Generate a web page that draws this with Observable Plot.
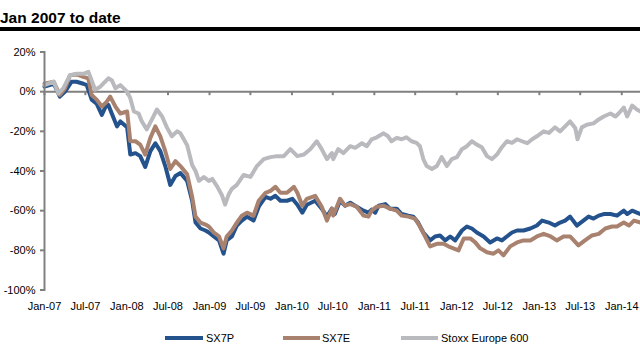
<!DOCTYPE html>
<html><head><meta charset="utf-8">
<script src="https://cdn.jsdelivr.net/npm/d3@7"></script>
<script src="https://cdn.jsdelivr.net/npm/@observablehq/plot@0.6"></script>
<style>
body{margin:0;background:#fff;font-family:"Liberation Sans",Arial,sans-serif;}
#title{width:640px;height:18px;padding-top:9px;font-weight:bold;font-size:15.5px;line-height:17px;border-bottom:4px solid #000;color:#000;white-space:nowrap;}
#chart svg{display:block;}
#legend{position:relative;width:640px;height:25px;font-size:11px;color:#000;}
#legend .sw{position:absolute;top:9.3px;height:4px;}
#legend .lb{position:absolute;top:5px;line-height:13px;white-space:nowrap;}
</style></head>
<body>
<div id="title">Jan 2007 to date</div>
<div id="chart"></div>
<div id="legend"></div>
<script>
// ---- data (percent change since Jan 2007) ----
const seriesNames = ["SX7P", "SX7E", "Stoxx Europe 600"];
const seriesColors = ["#24528c", "#a9826f", "#b9babe"];

const sx7pDates = ["2007-01-01","2007-02-11","2007-03-10","2007-04-02","2007-05-01","2007-05-23","2007-06-22","2007-07-07","2007-07-29","2007-08-20","2007-09-12","2007-09-27","2007-10-11","2007-10-26","2007-11-18","2007-12-03","2008-01-02","2008-01-16","2008-02-08","2008-02-29","2008-03-22","2008-04-14","2008-05-06","2008-05-28","2008-06-19","2008-07-11","2008-08-03","2008-08-25","2008-09-24","2008-10-16","2008-10-31","2008-11-22","2008-12-14","2008-12-29","2009-01-20","2009-02-12","2009-03-04","2009-03-18","2009-04-10","2009-05-02","2009-05-24","2009-06-16","2009-07-15","2009-08-07","2009-09-06","2009-09-28","2009-10-20","2009-11-11","2009-12-10","2010-01-03","2010-01-25","2010-02-16","2010-03-08","2010-04-14","2010-05-13","2010-06-05","2010-06-27","2010-07-10","2010-08-02","2010-08-24","2010-09-16","2010-10-15","2010-11-14","2010-12-06","2010-12-20","2011-01-05","2011-01-20","2011-02-19","2011-03-11","2011-04-10","2011-05-02","2011-06-01","2011-06-22","2011-07-14","2011-08-06","2011-09-05","2011-09-27","2011-10-19","2011-11-11","2011-12-03","2011-12-25","2012-01-24","2012-02-15","2012-03-08","2012-03-30","2012-04-29","2012-05-28","2012-06-27","2012-07-19","2012-08-10","2012-09-02","2012-09-24","2012-10-23","2012-11-22","2012-12-21","2013-01-13","2013-02-12","2013-03-11","2013-04-03","2013-04-25","2013-05-17","2013-06-16","2013-07-15","2013-08-07","2013-08-29","2013-09-21","2013-10-13","2013-11-12","2013-12-11","2014-01-10","2014-01-25","2014-02-16","2014-03-09","2014-03-25"];
const sx7pValues = [2.5,4,-2.5,0,5,5,4,3.3,-4,-6,-11.7,-8,-6.7,-11,-17.5,-15,-18,-31.7,-31,-32.5,-38,-30,-26,-30,-37.5,-47,-42.5,-41,-45,-55,-66,-69,-70,-71,-73,-75,-81.7,-75,-73,-67.5,-65,-63,-65,-58,-53,-54,-52.5,-55,-55,-54,-57,-61,-57,-55,-59,-63,-59,-61.7,-55,-57.5,-56,-58,-60,-61,-59.5,-61,-57.5,-56.7,-59,-59,-61.7,-62.5,-63,-66,-71,-75,-73,-72.5,-75,-73,-75,-70,-68,-69,-71,-73,-76,-74,-75,-73,-71,-70,-70,-69,-67.5,-65,-66,-67.5,-66,-65,-63,-67.5,-65,-63,-64,-62.5,-61.7,-61.7,-62.5,-60,-61.7,-60,-61,-61.7];

const sx7eDates = ["2007-01-01","2007-02-11","2007-03-10","2007-04-02","2007-04-24","2007-05-23","2007-06-22","2007-07-14","2007-07-29","2007-08-20","2007-09-12","2007-10-04","2007-10-19","2007-11-11","2007-12-03","2008-01-02","2008-01-16","2008-02-08","2008-02-29","2008-03-22","2008-04-14","2008-05-06","2008-05-28","2008-06-19","2008-07-11","2008-08-03","2008-08-25","2008-09-24","2008-10-16","2008-10-31","2008-11-22","2008-12-14","2008-12-29","2009-01-20","2009-02-12","2009-03-04","2009-03-18","2009-04-10","2009-05-02","2009-05-24","2009-06-16","2009-07-15","2009-08-07","2009-09-06","2009-09-28","2009-10-20","2009-11-11","2009-12-10","2010-01-10","2010-01-25","2010-02-16","2010-03-08","2010-04-14","2010-05-13","2010-06-05","2010-06-27","2010-07-03","2010-08-02","2010-08-24","2010-09-16","2010-10-15","2010-11-14","2010-12-06","2010-12-20","2011-01-12","2011-02-11","2011-03-11","2011-04-10","2011-05-02","2011-06-01","2011-06-30","2011-07-22","2011-08-14","2011-09-05","2011-10-05","2011-11-04","2011-11-25","2011-12-17","2012-01-09","2012-02-01","2012-03-01","2012-03-23","2012-04-14","2012-05-14","2012-06-12","2012-07-04","2012-07-26","2012-08-25","2012-09-24","2012-10-23","2012-11-22","2012-12-21","2013-01-20","2013-02-20","2013-03-19","2013-04-18","2013-05-17","2013-06-23","2013-07-22","2013-08-22","2013-09-21","2013-10-20","2013-11-19","2013-12-11","2014-01-10","2014-02-02","2014-02-24","2014-03-25"];
const sx7eValues = [4,5,-1.7,1.7,8.3,8.7,7.5,6.7,-1.7,-4,-7.5,-5,-2.5,-7.5,-11,-10,-25,-25,-26.7,-31.7,-23.3,-17.5,-22.5,-30,-39,-35,-37.5,-41.7,-53,-63,-66,-67,-68,-71,-73,-79,-73,-70,-66,-62.5,-61,-62.5,-55,-51,-50,-48,-51,-51,-48,-51,-57.5,-54,-52.5,-58,-65,-59,-62.5,-54,-57.5,-56.7,-58,-62.5,-63,-60,-58,-57.5,-59,-60,-62.5,-63,-64,-68,-73,-78,-76.7,-76.7,-78,-79,-80,-74,-74,-76,-79,-81,-81.7,-80,-82.5,-78,-76,-75,-75,-73,-71.7,-73,-75,-73,-73,-77.5,-75,-72.5,-71.7,-69,-68,-68,-66,-67.5,-65,-66];

const stoxxDates = ["2007-01-01","2007-02-11","2007-03-03","2007-03-25","2007-04-24","2007-05-23","2007-06-22","2007-07-14","2007-07-21","2007-08-13","2007-09-05","2007-10-11","2007-10-26","2007-11-11","2007-12-03","2008-01-02","2008-01-16","2008-02-01","2008-02-22","2008-03-07","2008-03-29","2008-04-21","2008-05-13","2008-06-05","2008-06-26","2008-07-18","2008-08-10","2008-08-25","2008-09-24","2008-10-16","2008-10-31","2008-11-15","2008-12-07","2008-12-29","2009-01-13","2009-02-05","2009-02-26","2009-03-11","2009-03-26","2009-04-10","2009-05-02","2009-06-01","2009-07-01","2009-07-30","2009-08-29","2009-09-28","2009-10-27","2009-11-26","2009-12-25","2010-01-25","2010-02-23","2010-03-23","2010-04-21","2010-05-13","2010-06-05","2010-06-27","2010-07-03","2010-07-25","2010-08-17","2010-09-16","2010-10-08","2010-11-07","2010-11-29","2010-12-20","2011-01-12","2011-02-11","2011-03-03","2011-03-18","2011-04-10","2011-05-02","2011-05-23","2011-06-15","2011-07-07","2011-07-22","2011-08-06","2011-08-21","2011-09-13","2011-10-05","2011-10-26","2011-11-18","2011-12-10","2012-01-02","2012-01-24","2012-02-15","2012-03-08","2012-03-30","2012-04-21","2012-05-14","2012-06-05","2012-06-27","2012-07-19","2012-08-10","2012-09-02","2012-09-24","2012-10-16","2012-11-08","2012-11-30","2012-12-21","2013-01-20","2013-02-12","2013-03-11","2013-04-03","2013-04-25","2013-05-17","2013-06-09","2013-06-19","2013-07-08","2013-07-30","2013-08-29","2013-09-21","2013-10-13","2013-11-12","2013-12-04","2013-12-18","2014-01-10","2014-01-25","2014-02-16","2014-03-09","2014-03-25"];
const stoxxValues = [3.3,5,-1,1.7,8.3,9,9,10,8,1,2.5,6.7,5.8,1.7,3.3,0,-3.3,-10,-11,-15,-19,-14,-9,-12.5,-18,-22.5,-20,-21,-27,-37,-40,-45,-43,-45,-44,-48,-52.5,-57,-52,-49,-47,-42,-43,-37.5,-34,-33,-32.5,-32.5,-29,-32.5,-31.7,-29,-25,-29,-34,-31,-34,-29,-31,-27.5,-28.3,-26,-27.5,-24,-23,-21,-22.5,-25,-23.3,-24,-23,-25,-25.8,-27.5,-34,-37.5,-39,-37.5,-33,-37.5,-34,-33,-29,-27.5,-25,-26.7,-28,-32.5,-34,-31.7,-28,-25,-25.8,-24,-25,-26,-24,-22.5,-20,-20.8,-18,-20,-17.5,-15,-18.3,-24,-18,-16.7,-16,-14,-12.5,-11,-12.5,-11,-8,-12.5,-7,-9,-10];

const yTickValues = [20, 0, -20, -40, -60, -80, -100];
const xTickLabels = ["Jan-07","Jul-07","Jan-08","Jul-08","Jan-09","Jul-09","Jan-10","Jul-10","Jan-11","Jul-11","Jan-12","Jul-12","Jan-13","Jul-13","Jan-14"];
const xStart = "2007-01-01", xEnd = "2014-03-25";

// ---- build table ----
const seriesDates = [sx7pDates, sx7eDates, stoxxDates];
const seriesValues = [sx7pValues, sx7eValues, stoxxValues];
const rows = seriesNames.flatMap((name, k) =>
  seriesDates[k].map((d, i) => ({name, date: new Date(d), value: seriesValues[k][i]})));
const xTicks = xTickLabels.map(s => d3.utcParse("%b-%y")(s));
const axisGrey = "#808080";

const chart = Plot.plot({
  width: 640, height: 296,
  marginTop: 20.5, marginBottom: 37.5, marginLeft: 44, marginRight: 0,
  style: {fontFamily: "'Liberation Sans', Arial, sans-serif", fontSize: "11px", color: "#000", background: "#fff", overflow: "visible"},
  x: {type: "utc", domain: [new Date(xStart), new Date(xEnd)]},
  y: {domain: [-100, 20]},
  color: {domain: seriesNames, range: seriesColors},
  marks: [
    Plot.ruleY([0], {stroke: axisGrey, strokeWidth: 2}),
    Plot.ruleX(xTicks, {x: d => d, y1: 0, y2: 0, insetBottom: -4, stroke: axisGrey, strokeWidth: 2}),
    Plot.lineY(rows, {x: "date", y: "value", z: "name", stroke: "name", strokeWidth: 4, strokeLinejoin: "round"}),
    Plot.frame({anchor: "left", stroke: axisGrey, strokeWidth: 2}),
    Plot.axisY(yTickValues, {tickSize: 4, tickPadding: 5, tickFormat: d => d + "%", stroke: axisGrey, strokeWidth: 2, fill: "#000", label: null}),
    Plot.axisX(xTicks, {tickSize: 0, tickPadding: 12.5, tickFormat: d3.utcFormat("%b-%y"), fill: "#000", label: null})
  ]
});
document.getElementById("chart").appendChild(chart);

// ---- legend ----
const legendPos = [[165, 38, 206], [283, 37, 322], [401, 37, 441]];
const legend = document.getElementById("legend");
seriesNames.forEach((name, k) => {
  const sw = document.createElement("div");
  sw.className = "sw";
  sw.style.left = legendPos[k][0] + "px";
  sw.style.width = legendPos[k][1] + "px";
  sw.style.background = seriesColors[k];
  legend.appendChild(sw);
  const lb = document.createElement("div");
  lb.className = "lb";
  lb.style.left = legendPos[k][2] + "px";
  lb.textContent = name;
  legend.appendChild(lb);
});
</script>
</body></html>
